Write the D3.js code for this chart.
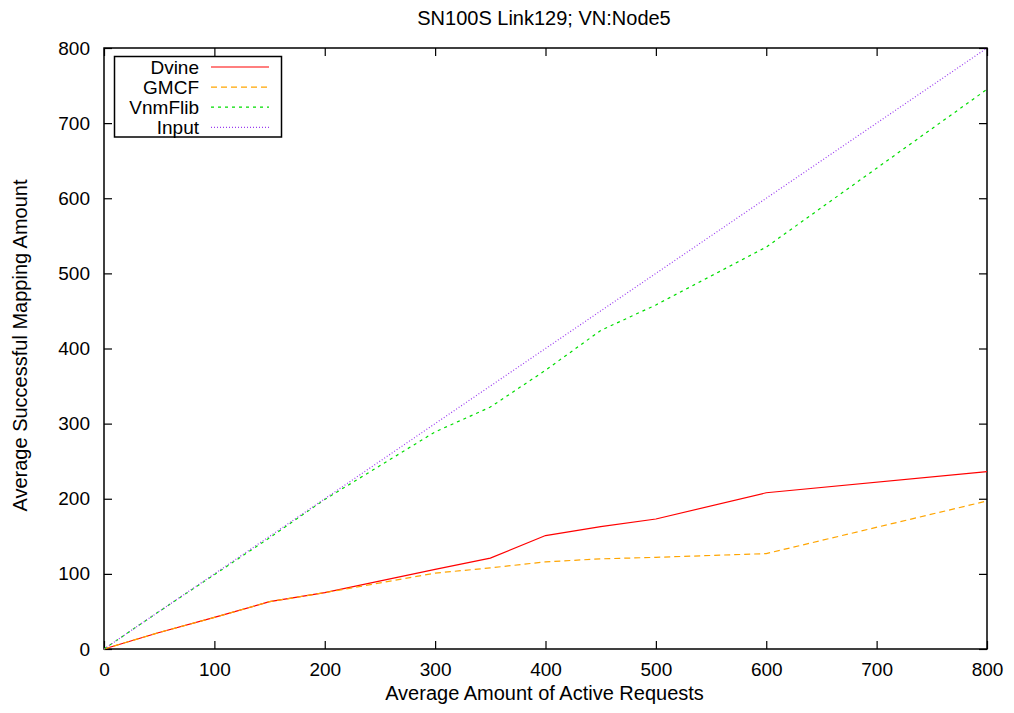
<!DOCTYPE html>
<html>
<head>
<meta charset="utf-8">
<script src="https://cdn.jsdelivr.net/npm/d3@7"></script>
<style>
body { margin: 0; background: #fff; }
text { font-family: "Liberation Sans", Arial, sans-serif; }
</style>
</head>
<body>
<div id="chart"></div>
<script>
// data
const requests = [0, 50, 100, 150, 200, 300, 350, 400, 450, 500, 600, 800];
const dvine = [0, 22, 42, 63, 75, 106, 121, 151, 163, 173, 208, 236];
const gmcf = [0, 22, 42, 63, 75, 101, 108, 116, 120, 122, 127, 197];
const vnmRequests = [0, 50, 100, 150, 200, 300, 350, 400, 450, 500, 600, 700, 800];
const vnmflib = [0, 50, 99, 148, 199, 289, 322, 371, 424, 458, 535, 640, 745];
const inputRequests = [0, 100, 200, 300, 400, 500, 600, 700, 800];
const input = [0, 100, 200, 300, 400, 500, 600, 700, 800];
const xTicks = [0, 100, 200, 300, 400, 500, 600, 700, 800];
const yTicks = [0, 100, 200, 300, 400, 500, 600, 700, 800];

const width = 1014;
const height = 713;
const plotLeft = 104, plotRight = 987, plotTop = 48, plotBottom = 649;

const svg = d3.select('#chart').append('svg').attr('width', width).attr('height', height);

const x = d3.scaleLinear().domain([0, 800]).range([plotLeft, plotRight]);
const y = d3.scaleLinear().domain([0, 800]).range([plotBottom, plotTop]);

// frame
svg.append('rect').attr('x', plotLeft).attr('y', plotTop).attr('width', plotRight - plotLeft).attr('height', plotBottom - plotTop)
    .attr('fill', 'none').attr('stroke', '#000').attr('stroke-width', 1.5);

// ticks on all four sides, pointing inward
function axisStyle(g) {
    g.select('.domain').remove();
    g.selectAll('.tick line').attr('stroke', '#000').attr('stroke-width', 1.2);
    g.selectAll('.tick text').attr('font-size', '19px').attr('fill', '#000')
        .attr('font-family', '"Liberation Sans", Arial, sans-serif');
}
svg.append('g').attr('transform', `translate(0,${plotBottom})`)
    .call(d3.axisBottom(x).tickValues(xTicks).tickSizeInner(-8).tickPadding(14).tickSizeOuter(0))
    .call(axisStyle);
svg.append('g').attr('transform', `translate(0,${plotTop})`)
    .call(d3.axisTop(x).tickValues(xTicks).tickSizeInner(-8).tickFormat('').tickSizeOuter(0))
    .call(axisStyle);
svg.append('g').attr('transform', `translate(${plotLeft},0)`)
    .call(d3.axisLeft(y).tickValues(yTicks).tickSizeInner(-8).tickPadding(14).tickSizeOuter(0))
    .call(axisStyle);
svg.append('g').attr('transform', `translate(${plotRight},0)`)
    .call(d3.axisRight(y).tickValues(yTicks).tickSizeInner(-8).tickFormat('').tickSizeOuter(0))
    .call(axisStyle);

const series = [
    {name: 'Dvine', xs: requests, ys: dvine, color: '#ff0000', dash: null},
    {name: 'GMCF', xs: requests, ys: gmcf, color: '#ffa500', dash: '6,4'},
    {name: 'VnmFlib', xs: vnmRequests, ys: vnmflib, color: '#00dd00', dash: '3,4'},
    {name: 'Input', xs: inputRequests, ys: input, color: '#9a3cf0', dash: '1,2'}
];

const line = d3.line().x(d => x(d[0])).y(d => y(d[1]));

series.forEach(s => {
    svg.append('path')
        .datum(s.xs.map((v, i) => [v, s.ys[i]]))
        .attr('d', line)
        .attr('fill', 'none')
        .attr('stroke', s.color)
        .attr('stroke-width', 1.2)
        .attr('stroke-dasharray', s.dash);
});

// legend
svg.append('rect').attr('x', 114.5).attr('y', 56.5).attr('width', 167).attr('height', 80.5)
    .attr('fill', '#fff').attr('stroke', '#000').attr('stroke-width', 1.5);
series.forEach((s, i) => {
    const ly = 67 + i * 20.1;
    svg.append('text').attr('x', 199).attr('y', ly).attr('dy', '0.35em')
        .attr('text-anchor', 'end').attr('font-size', '19px').text(s.name);
    svg.append('line').attr('x1', 211).attr('x2', 269).attr('y1', ly).attr('y2', ly)
        .attr('stroke', s.color).attr('stroke-width', 1.2).attr('stroke-dasharray', s.dash);
});

// title and axis labels
svg.append('text').attr('x', 544).attr('y', 25).attr('text-anchor', 'middle')
    .attr('font-size', '20px').text('SN100S Link129; VN:Node5');
svg.append('text').attr('x', 544.5).attr('y', 700).attr('text-anchor', 'middle')
    .attr('font-size', '20px').text('Average Amount of Active Requests');
svg.append('text').attr('transform', 'translate(27,345.5) rotate(-90)').attr('text-anchor', 'middle')
    .attr('font-size', '20px').text('Average Successful Mapping Amount');
</script>
</body>
</html>
